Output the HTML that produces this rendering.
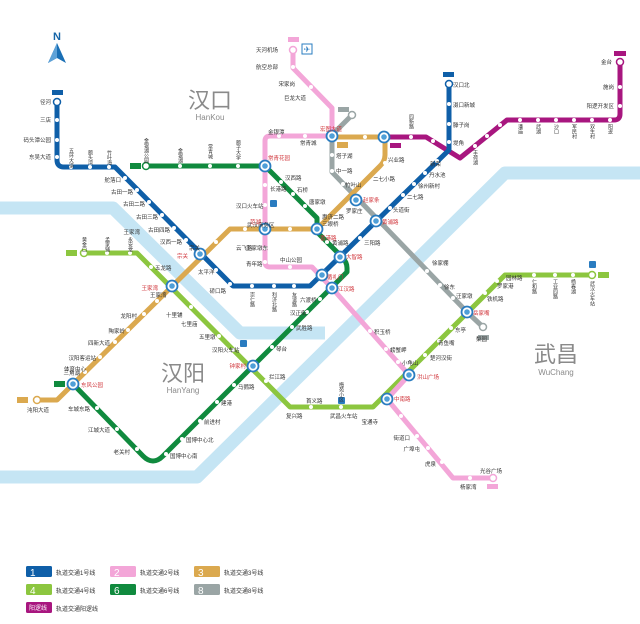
<!DOCTYPE html>
<html><head><meta charset="utf-8"><style>
html,body{margin:0;padding:0;background:#fff}
svg{display:block}
text{font-family:"Liberation Sans","Noto Sans CJK SC",sans-serif}
.s{font-size:5.5px;fill:#333}
.r{font-size:5.5px;fill:#d0343a}
</style></head><body>
<svg width="640" height="624" viewBox="0 0 640 624" xmlns="http://www.w3.org/2000/svg">
<rect width="640" height="624" fill="#fff"/>
<g fill="none" stroke="#c5e5f4" stroke-width="13" stroke-linejoin="round">
<path d="M0,208 H113 L240,333 H325"/>
<path d="M640,173 H505 L197,477 H0"/>
</g>
<text x="57" y="40" font-size="11" font-weight="bold" fill="#1565a8" text-anchor="middle">N</text>
<path d="M57,43 L48,63 L57,58 L66,63 Z" fill="#1a6fb5"/>
<path d="M57,43 L57,58 L48,63 Z" fill="#5ea2d8"/>
<text x="210" y="108" font-size="22" fill="#8a8a8a" text-anchor="middle" font-family="Noto Sans CJK SC,sans-serif">汉口</text>
<text x="210" y="120" font-size="8" fill="#8a8a8a" text-anchor="middle">HanKou</text>
<text x="183" y="381" font-size="22" fill="#8a8a8a" text-anchor="middle" font-family="Noto Sans CJK SC,sans-serif">汉阳</text>
<text x="183" y="393" font-size="8" fill="#8a8a8a" text-anchor="middle">HanYang</text>
<text x="556" y="362" font-size="22" fill="#8a8a8a" text-anchor="middle" font-family="Noto Sans CJK SC,sans-serif">武昌</text>
<text x="556" y="375" font-size="8" fill="#8a8a8a" text-anchor="middle">WuChang</text>
<g fill="none" stroke-width="5" stroke-linejoin="round" stroke-linecap="round">
<path stroke="#8cc63f" d="M84,253 H137 L290,407 H373 L505,275 H592"/>
<path stroke="#9aa5a5" d="M352,115 L332,135 V172 L467,312 L483,327"/>
<path stroke="#f3a6d8" d="M293,50 V68 L332,108 V136 H270 Q265,136 265,141 V262 Q265,267 270,267 H312 L332,288 L409,375 L387,399 L453,478 H493"/>
<path stroke="#dba94f" d="M37,400 H57 L230,229 H317 L380,166 Q385,161 385,155 V137 H332"/>
<path stroke="#a8167f" d="M384,137 H426 L460,158 L507,120 H614 Q620,120 620,114 V62"/>
<path stroke="#0f5fa8" d="M57,102 V160 Q57,167 64,167 H115 L233,286 H310 L449,150 V84"/>
<path stroke="#108a3e" d="M146,166 H265 L317,218 V232 L342,257 Q347,262 347,268 V272 L163,456 Q153,466 143,456 L73,384"/>
</g>
<g fill="#fff">
<circle cx="57" cy="120" r="2"/><circle cx="57" cy="140" r="2"/><circle cx="57" cy="157" r="2"/>
<circle cx="71" cy="167" r="2"/><circle cx="90" cy="167" r="2"/><circle cx="109" cy="167" r="2"/>
<circle cx="125" cy="178" r="2"/><circle cx="137" cy="190" r="2"/><circle cx="149" cy="202" r="2"/><circle cx="162" cy="215" r="2"/><circle cx="174" cy="228" r="2"/><circle cx="186" cy="240" r="2"/><circle cx="216" cy="270" r="2"/><circle cx="230" cy="284" r="2"/>
<circle cx="252" cy="286" r="2"/><circle cx="274" cy="286" r="2"/><circle cx="294" cy="286" r="2"/>
<circle cx="360" cy="238" r="2"/><circle cx="390" cy="208" r="2"/><circle cx="403" cy="195" r="2"/><circle cx="414" cy="184" r="2"/><circle cx="425" cy="173" r="2"/><circle cx="437" cy="161" r="2"/>
<circle cx="449" cy="104" r="2"/><circle cx="449" cy="124" r="2"/><circle cx="449" cy="142" r="2"/>
<circle cx="180" cy="166" r="2"/><circle cx="210" cy="166" r="2"/><circle cx="238" cy="166" r="2"/>
<circle cx="281" cy="182" r="2"/><circle cx="293" cy="194" r="2"/><circle cx="305" cy="206" r="2"/><circle cx="317" cy="225" r="2"/><circle cx="327" cy="242" r="2"/>
<circle cx="320" cy="299" r="2"/><circle cx="307" cy="312" r="2"/><circle cx="292" cy="327" r="2"/><circle cx="272" cy="347" r="2"/><circle cx="234" cy="385" r="2"/><circle cx="217" cy="402" r="2"/><circle cx="200" cy="421" r="2"/><circle cx="182" cy="439" r="2"/><circle cx="166" cy="454" r="2"/><circle cx="137" cy="449" r="2"/><circle cx="117" cy="429" r="2"/><circle cx="97" cy="408" r="2"/>
<circle cx="265" cy="185" r="2"/><circle cx="265" cy="205" r="2"/><circle cx="265" cy="248" r="2"/><circle cx="265" cy="262" r="2"/><circle cx="290" cy="267" r="2"/><circle cx="279" cy="136" r="2"/><circle cx="305" cy="136" r="2"/><circle cx="311" cy="87" r="2"/><circle cx="293" cy="67" r="2"/>
<circle cx="370" cy="331" r="2"/><circle cx="386" cy="349" r="2"/><circle cx="398" cy="362" r="2"/><circle cx="401" cy="416" r="2"/><circle cx="417" cy="436" r="2"/><circle cx="428" cy="448" r="2"/><circle cx="442" cy="462" r="2"/><circle cx="470" cy="478" r="2"/>
<circle cx="245" cy="229" r="2"/><circle cx="290" cy="229" r="2"/><circle cx="216" cy="242" r="2"/><circle cx="157" cy="301" r="2"/><circle cx="144" cy="314" r="2"/><circle cx="128" cy="330" r="2"/><circle cx="115" cy="342" r="2"/><circle cx="100" cy="357" r="2"/><circle cx="85" cy="372" r="2"/>
<circle cx="336" cy="220" r="2"/><circle cx="370" cy="184" r="2"/><circle cx="385" cy="163" r="2"/><circle cx="365" cy="137" r="2"/>
<circle cx="332" cy="155" r="2"/><circle cx="332" cy="171" r="2"/><circle cx="343" cy="184" r="2"/><circle cx="427" cy="271" r="2"/><circle cx="440" cy="285" r="2"/><circle cx="453" cy="298" r="2"/>
<circle cx="411" cy="137" r="2"/><circle cx="433" cy="141" r="2"/><circle cx="475" cy="146" r="2"/><circle cx="487" cy="136" r="2"/><circle cx="500" cy="125" r="2"/><circle cx="520" cy="120" r="2"/><circle cx="538" cy="120" r="2"/><circle cx="556" cy="120" r="2"/><circle cx="574" cy="120" r="2"/><circle cx="592" cy="120" r="2"/><circle cx="610" cy="120" r="2"/><circle cx="620" cy="87" r="2"/><circle cx="620" cy="106" r="2"/>
<circle cx="107" cy="253" r="2"/><circle cx="130" cy="253" r="2"/><circle cx="151" cy="267" r="2"/><circle cx="191" cy="307" r="2"/><circle cx="219" cy="336" r="2"/><circle cx="233" cy="350" r="2"/><circle cx="266" cy="381" r="2"/><circle cx="311" cy="407" r="2"/><circle cx="341" cy="407" r="2"/><circle cx="425" cy="355" r="2"/><circle cx="439" cy="341" r="2"/><circle cx="451" cy="328" r="2"/><circle cx="485" cy="293" r="2"/><circle cx="497" cy="281" r="2"/><circle cx="534" cy="275" r="2"/><circle cx="555" cy="275" r="2"/><circle cx="573" cy="275" r="2"/>
</g>
<g fill="#fff" stroke-width="1.5">
<circle cx="57" cy="102" r="3.5" stroke="#0f5fa8"/><circle cx="449" cy="84" r="3.5" stroke="#0f5fa8"/>
<circle cx="146" cy="166" r="3.5" stroke="#108a3e"/><circle cx="84" cy="253" r="3.5" stroke="#8cc63f"/><circle cx="592" cy="275" r="3.5" stroke="#8cc63f"/>
<circle cx="37" cy="400" r="3.5" stroke="#dba94f"/><circle cx="293" cy="50" r="3.5" stroke="#f3a6d8"/><circle cx="493" cy="478" r="3.5" stroke="#f3a6d8"/>
<circle cx="352" cy="115" r="3.5" stroke="#9aa5a5"/><circle cx="483" cy="327" r="3.5" stroke="#9aa5a5"/><circle cx="620" cy="62" r="3.5" stroke="#a8167f"/>
</g>
<g id="ic" fill="#fff" stroke="#2a7cc0" stroke-width="1.8">
<circle cx="265" cy="166" r="5.5"/><circle cx="332" cy="136" r="5.5"/><circle cx="384" cy="137" r="5.5"/><circle cx="200" cy="254" r="5.5"/><circle cx="172" cy="286" r="5.5"/><circle cx="265" cy="229" r="5.5"/><circle cx="317" cy="229" r="5.5"/><circle cx="356" cy="200" r="5.5"/><circle cx="376" cy="221" r="5.5"/><circle cx="340" cy="257" r="5.5"/><circle cx="322" cy="275" r="5.5"/><circle cx="332" cy="288" r="5.5"/><circle cx="253" cy="366" r="5.5"/><circle cx="73" cy="384" r="5.5"/><circle cx="409" cy="375" r="5.5"/><circle cx="387" cy="399" r="5.5"/><circle cx="467" cy="312" r="5.5"/>
</g>
<g fill="#4f9fd8">
<circle cx="265" cy="166" r="2.8"/><circle cx="332" cy="136" r="2.8"/><circle cx="384" cy="137" r="2.8"/><circle cx="200" cy="254" r="2.8"/><circle cx="172" cy="286" r="2.8"/><circle cx="265" cy="229" r="2.8"/><circle cx="317" cy="229" r="2.8"/><circle cx="356" cy="200" r="2.8"/><circle cx="376" cy="221" r="2.8"/><circle cx="340" cy="257" r="2.8"/><circle cx="322" cy="275" r="2.8"/><circle cx="332" cy="288" r="2.8"/><circle cx="253" cy="366" r="2.8"/><circle cx="73" cy="384" r="2.8"/><circle cx="409" cy="375" r="2.8"/><circle cx="387" cy="399" r="2.8"/><circle cx="467" cy="312" r="2.8"/>
</g>
<rect x="302" y="44" width="10" height="10" fill="#fff" stroke="#2a7cc0"/><text x="307" y="52" font-size="8" fill="#2a7cc0" text-anchor="middle">✈</text>
<g fill="#2a7cc0"><rect x="270" y="200" width="7" height="7" rx="1"/><rect x="240" y="340" width="7" height="7" rx="1"/><rect x="338" y="397" width="7" height="7" rx="1"/><rect x="589" y="261" width="7" height="7" rx="1"/></g>
<g font-size="4" fill="#fff">
<rect x="52" y="90" width="11" height="5" fill="#0f5fa8"/><rect x="443" y="72" width="11" height="5" fill="#0f5fa8"/>
<rect x="130" y="163" width="11" height="6" fill="#108a3e"/><rect x="66" y="250" width="11" height="6" fill="#8cc63f"/><rect x="598" y="272" width="11" height="6" fill="#8cc63f"/>
<rect x="17" y="397" width="11" height="6" fill="#dba94f"/><rect x="54" y="381" width="11" height="6" fill="#108a3e"/>
<rect x="288" y="37" width="11" height="5" fill="#f3a6d8"/><rect x="487" y="484" width="11" height="5" fill="#f3a6d8"/>
<rect x="338" y="107" width="11" height="5" fill="#9aa5a5"/><rect x="478" y="335" width="11" height="5" fill="#9aa5a5"/><rect x="337" y="142" width="11" height="6" fill="#dba94f"/>
<rect x="390" y="143" width="11" height="5" fill="#a8167f"/><rect x="614" y="51" width="12" height="5" fill="#a8167f"/>
</g>
<g class="s">
<text x="51" y="104" text-anchor="end">径河</text><text x="51" y="122" text-anchor="end">三店</text><text x="51" y="142" text-anchor="end">码头潭公园</text><text x="51" y="159" text-anchor="end">东吴大道</text>
<text x="121" y="182" text-anchor="end">舵落口</text><text x="133" y="194" text-anchor="end">古田一路</text><text x="145" y="206" text-anchor="end">古田二路</text><text x="158" y="219" text-anchor="end">古田三路</text><text x="170" y="232" text-anchor="end">古田四路</text><text x="182" y="244" text-anchor="end">汉西一路</text>
<text x="198" y="274">太平洋</text><text x="226" y="293" text-anchor="end">硚口路</text>
<text x="393" y="212">头道街</text><text x="407" y="199">二七路</text><text x="418" y="188">徐州新村</text><text x="429" y="177">丹水池</text><text x="430" y="166">新荣</text><text x="364" y="245">三阳路</text>
<text x="453" y="87">汉口北</text><text x="453" y="107">滠口新城</text><text x="453" y="127">滕子岗</text><text x="453" y="145">堤角</text>
<text x="270" y="191">长港路</text><text x="236" y="208">汉口火车站</text><text x="246" y="250">王家墩东</text><text x="246" y="266">青年路</text><text x="280" y="262">中山公园</text>
<text x="285" y="180">汉西路</text><text x="297" y="192">石桥</text><text x="309" y="204">唐家墩</text><text x="322" y="226">三眼桥</text><text x="332" y="245">黄浦路</text>
<text x="268" y="134">金银潭</text><text x="300" y="145">常青城</text><text x="278" y="52" text-anchor="end">天河机场</text><text x="278" y="69" text-anchor="end">航空总部</text><text x="295" y="86" text-anchor="end">宋家岗</text><text x="306" y="100" text-anchor="end">巨龙大道</text>
<text x="336" y="158">塔子湖</text><text x="336" y="173">中一路</text><text x="345" y="187">竹叶山</text>
<text x="388" y="162">兴业路</text><text x="373" y="181">二七小路</text><text x="346" y="213">罗家庄</text><text x="322" y="219">惠济二路</text>
<text x="300" y="302">六渡桥</text><text x="290" y="315">汉正街</text><text x="296" y="330">武胜路</text><text x="276" y="351">琴台</text><text x="238" y="389">马鹦路</text><text x="221" y="405">建港</text><text x="204" y="424">前进村</text><text x="186" y="442">国博中心北</text><text x="170" y="458">国博中心南</text><text x="130" y="454" text-anchor="end">老关村</text><text x="110" y="432" text-anchor="end">江城大道</text><text x="90" y="411" text-anchor="end">车城东路</text>
<text x="374" y="334">积玉桥</text><text x="390" y="352">螃蟹岬</text><text x="402" y="365">小龟山</text><text x="378" y="424" text-anchor="end">宝通寺</text><text x="410" y="440" text-anchor="end">街道口</text><text x="420" y="451" text-anchor="end">广埠屯</text><text x="436" y="466" text-anchor="end">虎泉</text><text x="460" y="489">杨家湾</text><text x="480" y="473">光谷广场</text>
<text x="140" y="234" text-anchor="end">王家湾</text><text x="247" y="227">武汉商务区</text><text x="236" y="250">云飞路</text><text x="200" y="250" text-anchor="end">宗关</text><text x="150" y="297">王家湾</text><text x="137" y="318" text-anchor="end">龙阳村</text><text x="125" y="333" text-anchor="end">陶家岭</text><text x="110" y="345" text-anchor="end">四新大道</text><text x="96" y="360" text-anchor="end">汉阳客运站</text><text x="80" y="375" text-anchor="end">三角湖</text><text x="64" y="371">体育中心</text><text x="27" y="412">沌阳大道</text>
<text x="155" y="270">五龙路</text><text x="166" y="317">十里铺</text><text x="181" y="326">七里庙</text><text x="199" y="339">五里墩</text><text x="212" y="352">汉阳火车站</text><text x="269" y="379">拦江路</text><text x="286" y="418">复兴路</text><text x="306" y="403">首义路</text><text x="330" y="418">武昌火车站</text>
<text x="455" y="332">东亭</text><text x="438" y="345">青鱼嘴</text><text x="430" y="360">楚河汉街</text><text x="487" y="301">铁机路</text><text x="497" y="288">罗家港</text><text x="506" y="280">园林路</text>
<text x="476" y="341">梨园</text><text x="432" y="265">徐家棚</text><text x="444" y="289">徐东</text><text x="456" y="298">汪家墩</text>
<text x="612" y="64" text-anchor="end">金台</text><text x="614" y="89" text-anchor="end">施岗</text><text x="614" y="108" text-anchor="end">阳逻开发区</text>
</g>
<g class="r">
<text x="268" y="160">常青花园</text><text x="320" y="131">宏图大道</text><text x="250" y="224">范湖</text><text x="320" y="240">香港路</text><text x="363" y="202">赵家条</text><text x="382" y="224">黄浦路</text><text x="346" y="259">大智路</text><text x="327" y="279">循礼门</text><text x="338" y="291">江汉路</text>
<text x="188" y="258" text-anchor="end">宗关</text><text x="158" y="290" text-anchor="end">王家湾</text><text x="246" y="368" text-anchor="end">钟家村</text><text x="81" y="387">东风公园</text><text x="417" y="379">洪山广场</text><text x="394" y="401">中南路</text><text x="473" y="315">岳家嘴</text>
</g>
<g font-size="5" fill="#333" writing-mode="tb">
<text x="71" y="148">五环大道</text><text x="90" y="150">额头湾</text><text x="109" y="150">竹叶海</text><text x="146" y="138">金银湖公园</text><text x="180" y="148">金银湖</text><text x="210" y="144">常青城</text><text x="238" y="140">额子大学</text>
<text x="252" y="292">崇仁路</text><text x="274" y="292">利济北路</text><text x="294" y="292">友谊路</text><text x="411" y="114">四新路</text><text x="475" y="150">丰荷湖</text><text x="520" y="124">潘庙</text><text x="538" y="124">武湖</text><text x="556" y="124">沙口</text><text x="574" y="124">军民村</text><text x="592" y="124">双生村</text><text x="610" y="124">阳逻</text>
<text x="534" y="279">仁和路</text><text x="555" y="279">工业四路</text><text x="573" y="279">杨春湖</text><text x="592" y="281">武汉火车站</text><text x="84" y="237">黄金口</text><text x="107" y="237">孟家铺</text><text x="130" y="237">永安堂</text><text x="341" y="382">梅苑小区</text>
</g>
<g font-size="6" fill="#333">
<rect x="26" y="566" width="26" height="11" rx="1.5" fill="#0f5fa8"/><text x="30" y="576" font-size="10" fill="#fff">1</text><text x="56" y="575">轨道交通1号线</text>
<rect x="110" y="566" width="26" height="11" rx="1.5" fill="#f3a6d8"/><text x="114" y="576" font-size="10" fill="#fff">2</text><text x="140" y="575">轨道交通2号线</text>
<rect x="194" y="566" width="26" height="11" rx="1.5" fill="#dba94f"/><text x="198" y="576" font-size="10" fill="#fff">3</text><text x="224" y="575">轨道交通3号线</text>
<rect x="26" y="584" width="26" height="11" rx="1.5" fill="#8cc63f"/><text x="30" y="594" font-size="10" fill="#fff">4</text><text x="56" y="593">轨道交通4号线</text>
<rect x="110" y="584" width="26" height="11" rx="1.5" fill="#108a3e"/><text x="114" y="594" font-size="10" fill="#fff">6</text><text x="140" y="593">轨道交通6号线</text>
<rect x="194" y="584" width="26" height="11" rx="1.5" fill="#9aa5a5"/><text x="198" y="594" font-size="10" fill="#fff">8</text><text x="224" y="593">轨道交通8号线</text>
<rect x="26" y="602" width="26" height="11" rx="1.5" fill="#a8167f"/><text x="29" y="610" font-size="6" fill="#fff">阳逻线</text><text x="56" y="611">轨道交通阳逻线</text>
</g>
</svg>
</body></html>
